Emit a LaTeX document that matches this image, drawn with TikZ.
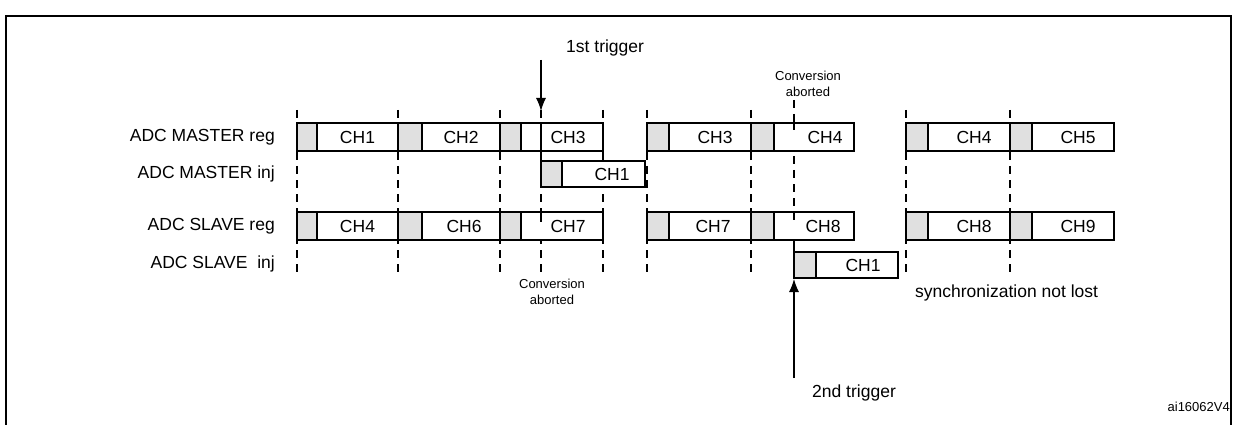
\documentclass[tikz,border=0pt]{standalone}
\usepackage{fontspec}
\usetikzlibrary{arrows.meta}
\setmainfont{Liberation Sans}
\begin{document}
\begin{tikzpicture}[x=1pt,y=-1pt,
  box/.style={draw,line width=1.1pt,fill=white},
  gray/.style={draw,line width=1.1pt,fill=black!12},
  dsh/.style={line width=1.1pt,dash pattern=on 8pt off 6pt},
  lbl/.style={font=\fontsize{17.5}{20}\selectfont,anchor=east,inner sep=0},
  ch/.style={font=\fontsize{17.5}{20}\selectfont,inner sep=0},
  sm/.style={font=\fontsize{13}{16}\selectfont,align=center,inner sep=0},
  arr/.style={line width=1.1pt,-{Latex[length=13pt,width=10pt]}}]
\useasboundingbox (0,0) rectangle (1237,425);
\draw[line width=2.2pt] (6,426) -- (6,16) -- (1231,16) -- (1231,426);
% dashed lines
\foreach \x in {297,398,500,603,647,751,906,1010}{
  \draw[dsh] (\x,110) -- (\x,272);}
\draw[dsh] (541,110) -- (541,275);
\draw[dsh] (794,100) -- (794,252);
% boxes: reg rows
\newcommand\regbox[5]{% x1 gx x2 ytop label
  \draw[box] (#1,#4) rectangle (#3,#4+28);
  \draw[gray] (#1,#4) rectangle (#2,#4+28);
  \node[ch] at ({(#2+#3)/2},#4+14) {#5};}
\regbox{297}{317}{398}{123}{CH1}
\regbox{398}{422}{500}{123}{CH2}
\regbox{500}{521}{603}{123}{\hspace*{12pt}CH3}
\regbox{647}{669}{751}{123}{\hspace*{10pt}CH3}
\regbox{751}{774}{854}{123}{\hspace*{22pt}CH4}
\regbox{906}{928}{1010}{123}{\hspace*{10pt}CH4}
\regbox{1010}{1032}{1114}{123}{\hspace*{10pt}CH5}
\regbox{297}{317}{398}{212}{CH4}
\regbox{398}{422}{500}{212}{\hspace*{6pt}CH6}
\regbox{500}{521}{603}{212}{\hspace*{12pt}CH7}
\regbox{647}{669}{751}{212}{\hspace*{6pt}CH7}
\regbox{751}{774}{854}{212}{\hspace*{18pt}CH8}
\regbox{906}{928}{1010}{212}{\hspace*{10pt}CH8}
\regbox{1010}{1032}{1114}{212}{\hspace*{10pt}CH9}
% inj boxes
\draw[box] (541,161) rectangle (645,187);
\draw[gray] (541,161) rectangle (562,187);
\node[ch] at (612,174) {CH1};
\draw[box] (794,252) rectangle (898,278);
\draw[gray] (794,252) rectangle (816,278);
\node[ch] at (863,265) {CH1};
% abort marks inside boxes
\draw[line width=1.1pt] (541,123) -- (541,151);
\draw[line width=1.1pt] (541,212) -- (541,222);
\draw[line width=1.1pt] (794,123) -- (794,130);
\draw[line width=1.1pt] (794,212) -- (794,220);
\draw[line width=1.1pt] (794,240) -- (794,252);
% labels
\node[lbl] at (275,137) {ADC MASTER reg};
\node[lbl] at (275,174) {ADC MASTER inj};
\node[lbl] at (275,226) {ADC SLAVE reg};
\node[lbl] at (275,264) {ADC SLAVE\ \ inj};
% triggers
\coordinate (t1s) at (541,60);
\coordinate (t1e) at (541,111);
\draw[arr] (t1s) -- (t1e);
\node[ch,anchor=west] at (566,48) {1st trigger};
\coordinate (t2s) at (794,378);
\coordinate (t2e) at (794,279);
\draw[arr] (t2s) -- (t2e);
\node[ch,anchor=west] at (812,393) {2nd trigger};
\node[sm] at (808,84) {Conversion\\aborted};
\node[sm] at (552,292) {Conversion\\aborted};
\node[ch,anchor=west] at (915,293) {synchronization not lost};
\node[font=\fontsize{13}{15}\selectfont,anchor=east,inner sep=0] at (1230,407) {ai16062V4};
\end{tikzpicture}
\end{document}
